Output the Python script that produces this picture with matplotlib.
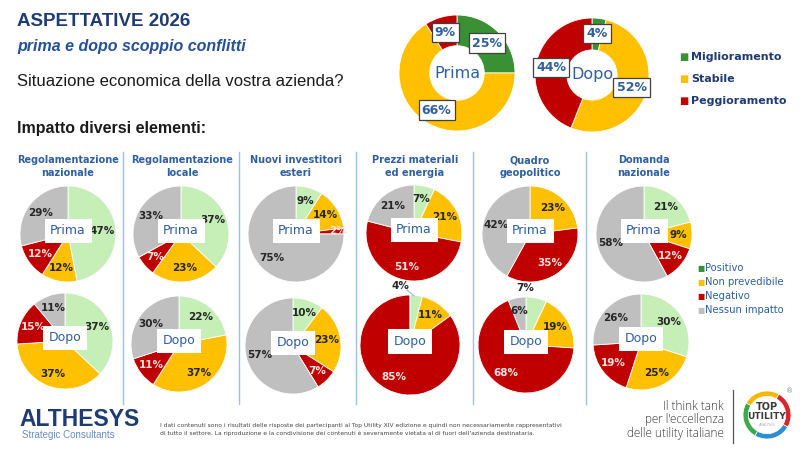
import numpy as np
import matplotlib.pyplot as plt

W, H = 800, 450

# situazione economica (donut)
donut_labels = ['Miglioramento', 'Stabile', 'Peggioramento']
donut_prima = [25, 66, 9]
donut_dopo = [4, 52, 44]
donut_colors = ['#3A9134', '#FFC000', '#C00000']

# impatto diversi elementi (pie)
impact_labels = ['Positivo', 'Non prevedibile', 'Negativo', 'Nessun impatto']
impact_colors = ['#C6EFB8', '#FFC000', '#C00000', '#BFBFBF']
legend_colors = ['#3A9134', '#FFC000', '#C00000', '#BFBFBF']
panels = ['Regolamentazione\nnazionale', 'Regolamentazione\nlocale',
          'Nuovi investitori\nesteri', 'Prezzi materiali\ned energia',
          'Quadro\ngeopolitico', 'Domanda\nnazionale']
prima = [[47, 12, 12, 29], [37, 23, 7, 33], [9, 14, 2, 75],
         [7, 21, 51, 21], [0, 23, 35, 42], [21, 9, 12, 58]]
dopo = [[37, 37, 15, 11], [22, 37, 11, 30], [10, 23, 7, 57],
        [4, 11, 85, 0], [7, 19, 68, 6], [30, 25, 19, 26]]

NAVY = '#1F3B73'
BLUE = '#2F5F9E'

fig = plt.figure(figsize=(8, 4.5), dpi=100)
fig.patch.set_facecolor('white')


def fx(x):
    return x / W


def fy(y):
    return 1 - y / H


def px_axes(cx, cy, r):
    ax = fig.add_axes([(cx - r) / W, 1 - (cy + r) / H, 2 * r / W, 2 * r / H])
    return ax


# titles
fig.text(fx(17), fy(22), 'ASPETTATIVE 2026', color=NAVY, fontsize=13.5,
         fontweight='bold', va='center', family='Liberation Sans')
fig.text(fx(17), fy(46), 'prima e dopo scoppio conflitti', color='#24509A', fontsize=11.5,
         fontweight='bold', style='italic', va='center', family='Liberation Sans')
fig.text(fx(17), fy(82), 'Situazione economica della vostra azienda?', color='#1A1A1A',
         fontsize=12, va='center', family='Liberation Sans')
fig.text(fx(17), fy(129), 'Impatto diversi elementi:', color='#1A1A1A', fontsize=11.5,
         fontweight='bold', va='center', family='Liberation Sans')

# donuts
for vals, name, (cx, cy, r), w in [(donut_prima, 'Prima', (457, 73, 58), 0.53),
                                   (donut_dopo, 'Dopo', (592, 75, 57), 0.56)]:
    ax = px_axes(cx, cy, r)
    wedges, _ = ax.pie(vals, colors=donut_colors, startangle=90, counterclock=False,
                       wedgeprops=dict(width=w, edgecolor='white', linewidth=0.6))
    ax.set_xlim(-1, 1)
    ax.set_ylim(-1, 1)
    for wd, v in zip(wedges, vals):
        a = np.deg2rad((wd.theta1 + wd.theta2) / 2)
        ax.text(0.73 * np.cos(a), 0.73 * np.sin(a), f'{v}%', ha='center', va='center',
                color=BLUE, fontsize=9, fontweight='bold',
                bbox=dict(boxstyle='square,pad=0.25', fc='white', ec='#404040', lw=0.9))
    ax.text(0, 0, name, ha='center', va='center', color=BLUE, fontsize=11.5)

for i, (lab, c) in enumerate(zip(donut_labels, donut_colors)):
    y = 57 + i * 22
    fig.text(fx(679), fy(y), '■', color=c, fontsize=7, va='center')
    fig.text(fx(691), fy(y), lab, color=NAVY, fontsize=8, fontweight='bold', va='center')

# separators
for x in [123, 239, 356, 473, 586]:
    fig.add_artist(plt.Line2D([fx(x), fx(x)], [fy(152), fy(404)], color='#9CC3E0', lw=1))

# pies
head_x = [68, 182, 296, 415, 530, 644]
prima_c = [(68, 234), (181, 234), (296, 234), (414, 233), (530, 234), (644, 234)]
dopo_c = [(65, 341), (179, 344), (293, 346), (410, 345), (526, 345), (641, 342)]
outside = {(3, 1, 0), (4, 1, 0)}

for p in range(len(panels)):
    fig.text(fx(head_x[p]), fy(166.5), panels[p], ha='center', va='center', color=BLUE,
             fontsize=7, fontweight='bold', linespacing=1.3)
    for row, (vals, name, (cx, cy)) in enumerate([(prima[p], 'Prima', prima_c[p]),
                                                   (dopo[p], 'Dopo', dopo_c[p])]):
        r = 50 if (p == 3 and row == 1) else 48
        ax = px_axes(cx, cy, r)
        wedges, _ = ax.pie(vals, colors=impact_colors, startangle=90, counterclock=False,
                           wedgeprops=dict(edgecolor='white', linewidth=0.6))
        ax.set_xlim(-1, 1)
        ax.set_ylim(-1, 1)
        for k, (wd, v) in enumerate(zip(wedges, vals)):
            if v == 0:
                continue
            a = np.deg2rad((wd.theta1 + wd.theta2) / 2)
            tc = '#FFE3E3' if k == 2 else '#262626'
            if (p, row, k) in outside:
                tx, ty = 0.12 * np.cos(a) - 0.05, 1.18
                if p == 3:
                    tx = -0.2
                    ax.plot([tx + 0.14, 0.08], [1.1, 0.98], color='#8FB8D8', lw=0.8,
                            clip_on=False)
                ax.text(tx, ty, f'{v}%', ha='center', va='center', color='#262626',
                        fontsize=7.5, fontweight='bold', clip_on=False)
                continue
            d = 0.72 if v >= 5 else 0.88
            ax.text(d * np.cos(a), d * np.sin(a), f'{v}%', ha='center', va='center',
                    color=tc, fontsize=7.5, fontweight='bold')
        ax.text(0, 0.07, name, ha='center', va='center', color=BLUE, fontsize=9,
                bbox=dict(boxstyle='square,pad=0.45', fc='white', ec='none'))

for i, (lab, c) in enumerate(zip(impact_labels, legend_colors)):
    y = 268 + i * 14
    fig.text(fx(697), fy(y), '■', color=c, fontsize=5.5, va='center')
    fig.text(fx(705), fy(y), lab, color=BLUE, fontsize=7.2, va='center')

# footer
fig.text(fx(19), fy(420), 'ALTHESYS', color='#1F3B73', fontsize=16.5, fontweight='bold',
         va='center', family='Liberation Sans')
fig.text(fx(22), fy(435), 'Strategic Consultants', color='#6A8CC0', fontsize=7,
         va='center', family='Liberation Sans')
fig.text(fx(160), fy(425),
         'I dati contenuti sono i risultati delle risposte dei partecipanti al Top Utility XIV '
         'edizione e quindi non necessariamente rappresentativi', color='#444444',
         fontsize=4.3, va='center', family='Liberation Sans Narrow')
fig.text(fx(160), fy(433),
         'di tutto il settore. La riproduzione e la condivisione dei contenuti è severamente '
         'vietata al di fuori dell\'azienda destinataria.', color='#444444',
         fontsize=4.3, va='center', family='Liberation Sans Narrow')
fig.text(fx(724), fy(420), 'Il think tank\nper l\'eccellenza\ndelle utility italiane',
         ha='right', va='center', color='#3A3A3A', fontsize=8.5, linespacing=1.1,
         family='Open Sans', fontweight='light')
fig.add_artist(plt.Line2D([fx(733), fx(733)], [fy(390), fy(443)], color='#555555', lw=0.9))

lax = px_axes(767, 415, 24)
lax.pie([1, 1, 1, 1], colors=['#F5B800', '#3DAA4A', '#2E8FD0', '#D7262E'], startangle=60,
        wedgeprops=dict(width=0.22, edgecolor='white', linewidth=0.5))
lax.set_xlim(-1, 1)
lax.set_ylim(-1, 1)
lax.text(0, 0.33, 'TOP', ha='center', va='center', color='#3A3A3A', fontsize=7,
         fontweight='bold')
lax.text(0, -0.05, 'UTILITY', ha='center', va='center', color='#3A3A3A', fontsize=6.5,
         fontweight='bold')
lax.text(0, -0.42, 'ANALYSIS', ha='center', va='center', color='#B0B0B0', fontsize=2.5)
fig.text(fx(790), fy(391), '®', color='#888888', fontsize=5, va='center', ha='center')

fig.savefig('out.png', dpi=100, facecolor='white')
